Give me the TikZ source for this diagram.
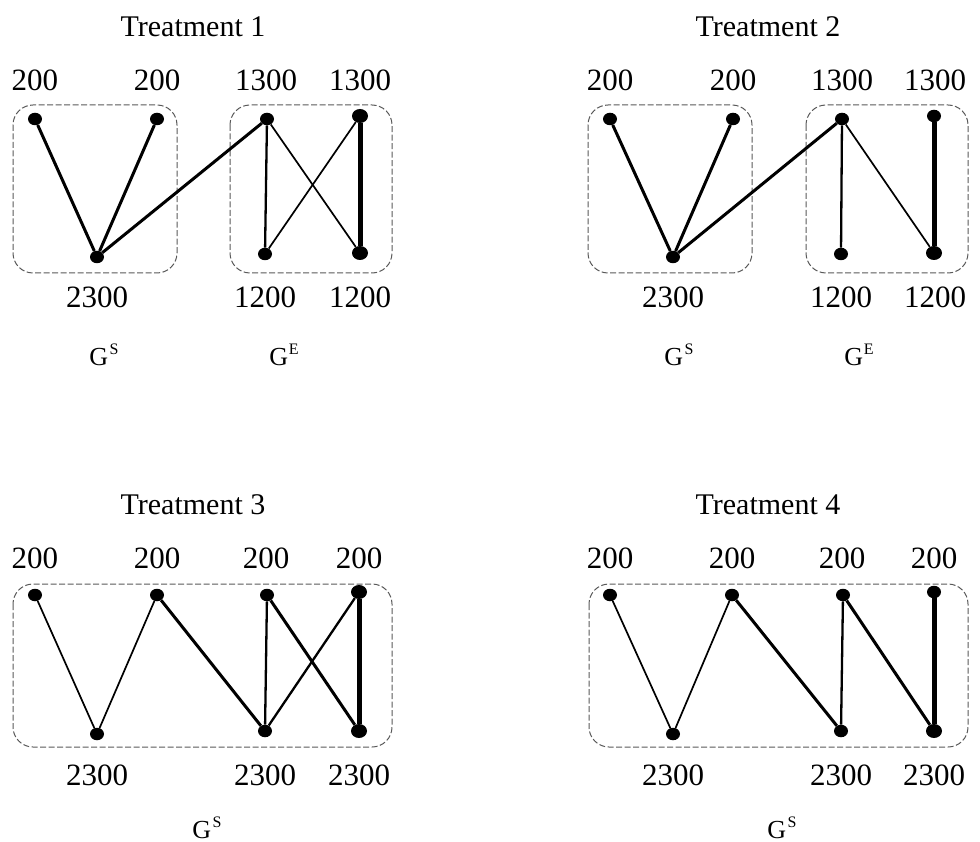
\documentclass[tikz,border=0pt]{standalone}
\usepackage{fontspec}
\setmainfont{Liberation Serif}
\usetikzlibrary{shapes.geometric}
\begin{document}
\begin{tikzpicture}[x=1pt,y=-1pt,
  vtx/.style={ellipse,fill=black,inner sep=0pt,minimum width=14pt,minimum height=12.5pt},
  bigvtx/.style={ellipse,fill=black,inner sep=0pt,minimum width=16pt,minimum height=14pt},
  grp/.style={draw=black!65,dash pattern=on 6pt off 2.5pt,line width=1pt,rounded corners=20pt},
  lab/.style={anchor=base,font=\fontsize{31}{31}\selectfont,inner sep=0pt},
  ttl/.style={anchor=base,font=\fontsize{30}{30}\selectfont,inner sep=0pt},
  glab/.style={anchor=base,inner sep=0pt},
  thin/.style={line width=1.7pt},
  mid/.style={line width=2.3pt},
  thk/.style={line width=3pt},
  vthk/.style={line width=5pt}]
\useasboundingbox (0,0) rectangle (980,842);
\newcommand{\gS}{{\fontsize{26}{26}\selectfont G\kern1.5pt\raisebox{11pt}{\fontsize{16}{16}\selectfont S}}}
\newcommand{\gE}{{\fontsize{26}{26}\selectfont G\kern0.5pt\raisebox{11pt}{\fontsize{16}{16}\selectfont E}}}

% ---------- Treatment 1 ----------
\begin{scope}[name prefix=a-]
\node[ttl] (title) at (193,37) {Treatment 1};
\draw[grp] (13,105) rectangle (177,273);
\draw[grp] (230,105) rectangle (392,273);
\node[vtx] (s1) at (35,119) {};
\node[vtx] (s2) at (157,119) {};
\node[vtx] (s3) at (97,257) {};
\node[vtx] (e1) at (267,119) {};
\node[bigvtx] (e2) at (360,116) {};
\node[vtx] (e3) at (265,254) {};
\node[bigvtx] (e4) at (360,253) {};
\draw[thk] (s1) -- (s3);
\draw[thk] (s2) -- (s3);
\draw[thk] (s3) -- (e1);
\draw[mid] (e1) -- (e3);
\draw[thin] (e1) -- (e4);
\draw[thin] (e2) -- (e3);
\draw[vthk] (e2) -- (e4);
\node[lab] (l1) at (35,91) {200};
\node[lab] (l2) at (157,91) {200};
\node[lab] (l3) at (266,91) {1300};
\node[lab] (l4) at (360,91) {1300};
\node[lab] (l5) at (97,308) {2300};
\node[lab] (l6) at (265,308) {1200};
\node[lab] (l7) at (360,308) {1200};
\node[glab] (g1) at (104,366) {\gS};
\node[glab] (g2) at (284,366) {\gE};
\end{scope}

% ---------- Treatment 2 ----------
\begin{scope}[shift={(575,0)},name prefix=b-]
\node[ttl] (title) at (193,37) {Treatment 2};
\draw[grp] (13,105) rectangle (177,273);
\draw[grp] (231,105) rectangle (393,273);
\node[vtx] (s1) at (35,119) {};
\node[vtx] (s2) at (158,119) {};
\node[vtx] (s3) at (98,257) {};
\node[vtx] (e1) at (267,119) {};
\node[vtx] (e2) at (359,116) {};
\node[vtx] (e3) at (266,254) {};
\node[bigvtx] (e4) at (359,253) {};
\draw[thk] (s1) -- (s3);
\draw[thk] (s2) -- (s3);
\draw[thk] (s3) -- (e1);
\draw[mid] (e1) -- (e3);
\draw[thin] (e1) -- (e4);
\draw[vthk] (e2) -- (e4);
\node[lab] (l1) at (35,91) {200};
\node[lab] (l2) at (158,91) {200};
\node[lab] (l3) at (267,91) {1300};
\node[lab] (l4) at (360,91) {1300};
\node[lab] (l5) at (98,308) {2300};
\node[lab] (l6) at (266,308) {1200};
\node[lab] (l7) at (360,308) {1200};
\node[glab] (g1) at (104,366) {\gS};
\node[glab] (g2) at (284,366) {\gE};
\end{scope}

% ---------- Treatment 3 ----------
\begin{scope}[name prefix=c-]
\node[ttl] (title) at (193,514) {Treatment 3};
\draw[grp] (13,584) rectangle (392,747);
\node[vtx] (t1) at (35,595) {};
\node[vtx] (t2) at (157,595) {};
\node[vtx] (t3) at (267,595) {};
\node[bigvtx] (t4) at (359,592) {};
\node[vtx] (b1) at (97,734) {};
\node[vtx] (b2) at (265,731) {};
\node[bigvtx] (b3) at (359,731) {};
\draw[thin] (t1) -- (b1);
\draw[thin] (t2) -- (b1);
\draw[thk] (t2) -- (b2);
\draw[mid] (t3) -- (b2);
\draw[thk] (t3) -- (b3);
\draw[mid] (t4) -- (b2);
\draw[vthk] (t4) -- (b3);
\node[lab] (l1) at (35,568) {200};
\node[lab] (l2) at (157,568) {200};
\node[lab] (l3) at (266,568) {200};
\node[lab] (l4) at (359,568) {200};
\node[lab] (l5) at (97,785) {2300};
\node[lab] (l6) at (265,785) {2300};
\node[lab] (l7) at (359,785) {2300};
\node[glab] (g1) at (207,838) {\gS};
\end{scope}

% ---------- Treatment 4 ----------
\begin{scope}[shift={(575,0)},name prefix=d-]
\node[ttl] (title) at (193,514) {Treatment 4};
\draw[grp] (14,584) rectangle (393,747);
\node[vtx] (t1) at (35,595) {};
\node[vtx] (t2) at (157,595) {};
\node[vtx] (t3) at (268,595) {};
\node[vtx] (t4) at (359,592) {};
\node[vtx] (b1) at (98,734) {};
\node[vtx] (b2) at (266,731) {};
\node[bigvtx] (b3) at (359,731) {};
\draw[thin] (t1) -- (b1);
\draw[thin] (t2) -- (b1);
\draw[thk] (t2) -- (b2);
\draw[mid] (t3) -- (b2);
\draw[thk] (t3) -- (b3);
\draw[vthk] (t4) -- (b3);
\node[lab] (l1) at (35,568) {200};
\node[lab] (l2) at (157,568) {200};
\node[lab] (l3) at (267,568) {200};
\node[lab] (l4) at (359,568) {200};
\node[lab] (l5) at (98,785) {2300};
\node[lab] (l6) at (266,785) {2300};
\node[lab] (l7) at (359,785) {2300};
\node[glab] (g1) at (207,838) {\gS};
\end{scope}
\end{tikzpicture}
\end{document}
